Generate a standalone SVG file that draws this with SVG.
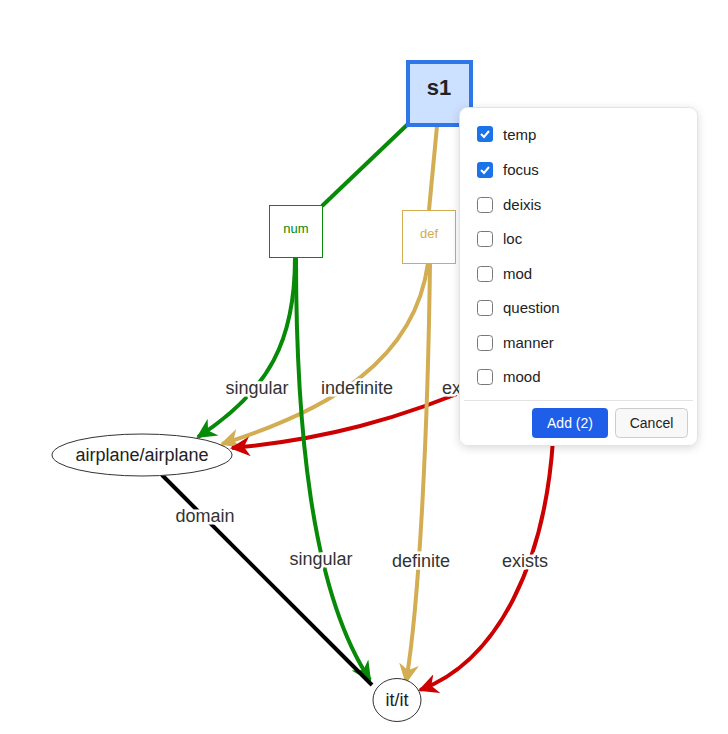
<svg xmlns="http://www.w3.org/2000/svg" width="728" height="734" viewBox="0 0 728 734">
<style>
text{font-family:"Liberation Sans",Arial,sans-serif}
.e{fill:none;stroke-width:4}
.lbl{font-size:18px;fill:#333;text-anchor:middle;stroke:#fff;stroke-width:5;paint-order:stroke}
.g{stroke:#078a07}.t{stroke:#d2ad52}.r{stroke:#cc0000}.k{stroke:#000}
.opt{font-size:15px;fill:#222}
.cb{fill:#fff;stroke:#777;stroke-width:1}
.cbc{fill:#1a73e8}
</style>
<defs>
<marker id="ag" viewBox="0 0 10 10" refX="9" refY="5" markerWidth="5" markerHeight="5" orient="auto" markerUnits="strokeWidth"><path d="M0,0L10,5L0,10L3,5z" fill="#078a07"/></marker>
<marker id="at" viewBox="0 0 10 10" refX="9" refY="5" markerWidth="5" markerHeight="5" orient="auto" markerUnits="strokeWidth"><path d="M0,0L10,5L0,10L3,5z" fill="#d2ad52"/></marker>
<marker id="ar" viewBox="0 0 10 10" refX="9" refY="5" markerWidth="5" markerHeight="5" orient="auto" markerUnits="strokeWidth"><path d="M0,0L10,5L0,10L3,5z" fill="#cc0000"/></marker>
<filter id="sh" x="-10%" y="-10%" width="120%" height="120%"><feDropShadow dx="0" dy="2" stdDeviation="4" flood-opacity="0.15"/></filter>
</defs>
<rect width="728" height="734" fill="#fff"/>
<g id="connectors">
<path class="e g" d="M408,124 L322,206"/>
<path class="e t" d="M437,126 L429,210"/>
<path class="e g" d="M295,258 C295,340 270,390 198,437" marker-end="url(#ag)"/>
<path class="e t" d="M428,263 C415,360 330,410 222,444" marker-end="url(#at)"/>
<path class="e r" d="M490,380 C400,420 320,440 232,448" marker-end="url(#ar)"/>
<path class="e g" d="M296,258 C296,420 310,590 370,680" marker-end="url(#ag)"/>
<path class="e t" d="M430,263 C428,420 420,600 406,682" marker-end="url(#at)"/>
<path class="e r" d="M553,440 C545,560 500,660 420,690" marker-end="url(#ar)"/>
<path class="e k" d="M162,475 L372,685"/>
<text class="lbl" x="257" y="394">singular</text>
<text class="lbl" x="357" y="394">indefinite</text>
<text class="lbl" x="465" y="394">exists</text>
<text class="lbl" x="205" y="522">domain</text>
<text class="lbl" x="321" y="565">singular</text>
<text class="lbl" x="421" y="567">definite</text>
<text class="lbl" x="525" y="567">exists</text>
</g>
<g id="s1"><rect x="408" y="62" width="63" height="63" fill="#cce0ff" stroke="#2f76e8" stroke-width="4"/><text x="439" y="95" font-size="22" font-weight="bold" fill="#222" text-anchor="middle">s1</text></g>
<g id="num"><rect x="269.5" y="205.5" width="53" height="52" fill="#fff" stroke="#078a07"/><text x="296" y="233" font-size="13" fill="#078a07" text-anchor="middle">num</text></g>
<g id="def"><rect x="402.5" y="210.5" width="53" height="53" fill="#fff" stroke="#d2ad52"/><text x="429" y="238" font-size="13" fill="#d2ad52" text-anchor="middle">def</text></g>
<g id="airplane"><ellipse cx="142" cy="455" rx="90" ry="21" fill="#fff" stroke="#333"/><text x="142" y="461" font-size="18" fill="#222" text-anchor="middle">airplane/airplane</text></g>
<g id="it"><ellipse cx="397" cy="700" rx="24" ry="21.5" fill="#fff" stroke="#333"/><text x="397" y="706" font-size="18" fill="#222" text-anchor="middle">it/it</text></g>
<g id="popup">
<rect x="459.5" y="107.5" width="238" height="338" rx="8" fill="#fff" stroke="#e3e3e3" filter="url(#sh)"/>
<rect x="477" y="126" width="16" height="16" rx="3" class="cbc"/><path d="M481,134 l3,3 l5,-6" fill="none" stroke="#fff" stroke-width="2"/>
<rect x="477" y="162" width="16" height="16" rx="3" class="cbc"/><path d="M481,170 l3,3 l5,-6" fill="none" stroke="#fff" stroke-width="2"/>
<rect x="477.5" y="197.5" width="15" height="15" rx="3" class="cb"/>
<rect x="477.5" y="231.5" width="15" height="15" rx="3" class="cb"/>
<rect x="477.5" y="266.5" width="15" height="15" rx="3" class="cb"/>
<rect x="477.5" y="300.5" width="15" height="15" rx="3" class="cb"/>
<rect x="477.5" y="335.5" width="15" height="15" rx="3" class="cb"/>
<rect x="477.5" y="369.5" width="15" height="15" rx="3" class="cb"/>
<text class="opt" x="503" y="140">temp</text>
<text class="opt" x="503" y="175">focus</text>
<text class="opt" x="503" y="210">deixis</text>
<text class="opt" x="503" y="244">loc</text>
<text class="opt" x="503" y="279">mod</text>
<text class="opt" x="503" y="313">question</text>
<text class="opt" x="503" y="348">manner</text>
<text class="opt" x="503" y="382">mood</text>
<line x1="464" y1="400.5" x2="693" y2="400.5" stroke="#e3e3e3"/>
<rect x="532" y="408" width="76" height="30" rx="4" fill="#1f5ee8"/>
<text x="570" y="428" font-size="14" fill="#fff" text-anchor="middle">Add (2)</text>
<rect x="615.5" y="408.5" width="72" height="29" rx="4" fill="#f8f8f8" stroke="#ccc"/>
<text x="651.5" y="428" font-size="14" fill="#222" text-anchor="middle">Cancel</text>
</g>
</svg>
